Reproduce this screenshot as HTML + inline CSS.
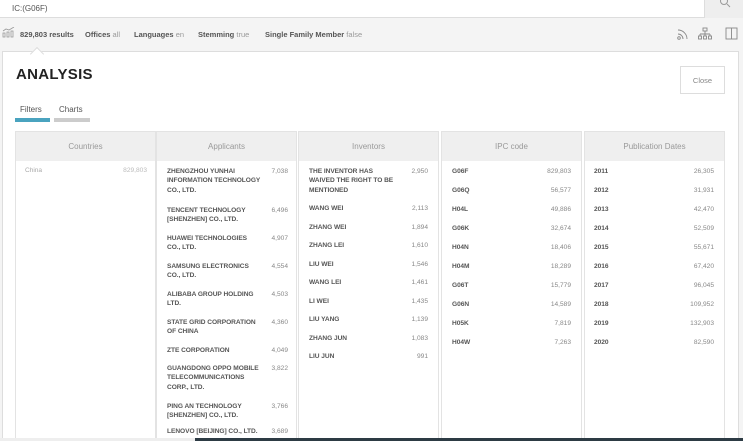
<!DOCTYPE html>
<html><head><meta charset="utf-8"><style>
*{margin:0;padding:0;box-sizing:border-box}
body{width:743px;height:441px;overflow:hidden;background:#f4f4f4;font-family:"Liberation Sans",sans-serif;position:relative;color:#333}
.a{position:absolute}
.top{left:0;top:0;width:743px;height:18px;background:#fff;border-bottom:1px solid #ddd}
.sbtn{left:704px;top:0;width:39px;height:18px;background:#eeeeee;border-left:1px solid #ddd}
.bar{font-size:7.5px;top:30px;color:#555}
.bar b{font-weight:bold;color:#555}
.bar i{font-style:normal;color:#999}
.panel{left:2px;top:51px;width:737px;height:390px;background:#fff;border:1px solid #ddd}
.col{top:131px;width:141px;height:310px;border:1px solid #e3e3e3;background:#fff}
.hd{position:absolute;left:0;top:0;width:100%;height:29px;background:#efefef;font-size:8px;color:#999;text-align:center;line-height:29px}
.it{position:absolute;font-size:6.6px;line-height:9.4px;color:#555;font-weight:bold;letter-spacing:-0.05px}
.n{position:absolute;font-size:6.6px;line-height:9.4px;color:#888;text-align:right}
</style></head><body>
<div class="a top"></div>
<div class="a" style="left:12px;top:4px;font-size:8px;color:#555">IC:(G06F)</div>
<div class="a sbtn"></div>
<svg class="a" style="left:719px;top:0" width="12" height="8"><circle cx="5" cy="1" r="3.5" fill="none" stroke="#999" stroke-width="1"/><line x1="8" y1="4" x2="11" y2="7" stroke="#999"/></svg>
<svg class="a" style="left:2px;top:27px" width="14" height="11"><g fill="none" stroke="#999" stroke-width="0.8"><rect x="1" y="6" width="2" height="4"/><rect x="5" y="5" width="2" height="5"/><rect x="9" y="4" width="2" height="6"/><polyline points="1,4 4,2 7,3 12,0"/></g></svg>
<div class="a bar" style="left:20px"><b>829,803 results</b></div>
<div class="a bar" style="left:85px"><b>Offices</b> <i>all</i></div>
<div class="a bar" style="left:134px"><b>Languages</b> <i>en</i></div>
<div class="a bar" style="left:198px"><b>Stemming</b> <i>true</i></div>
<div class="a bar" style="left:265px"><b>Single Family Member</b> <i>false</i></div>
<svg class="a" style="left:676px;top:27px" width="67" height="14"><g fill="none" stroke="#888" stroke-width="0.9"><circle cx="3" cy="11" r="1.3"/><path d="M2 7a5 5 0 0 1 5 5M2 3a9 9 0 0 1 9 9"/><rect x="27" y="1" width="4" height="3"/><path d="M29 4v3M24 7h10M24 7v2M29 7v2M34 7v2"/><rect x="22.5" y="9" width="3" height="3"/><rect x="27.5" y="9" width="3" height="3"/><rect x="32.5" y="9" width="3" height="3"/><rect x="50" y="1" width="11" height="11"/><path d="M55.5 1v11"/></g></svg>
<div class="a panel"></div>
<div class="a" style="left:32px;top:49px;width:10px;height:10px;background:#fff;border-left:1px solid #ddd;border-top:1px solid #ddd;transform:rotate(45deg)"></div>
<div class="a" style="left:16px;top:66px;font-size:15px;font-weight:bold;color:#222;letter-spacing:0.3px">ANALYSIS</div>
<div class="a" style="left:680px;top:66px;width:45px;height:28px;border:1px solid #ddd;font-size:7.5px;color:#888;text-align:center;line-height:27px">Close</div>
<div class="a" style="left:20px;top:105px;font-size:8px;color:#555">Filters</div>
<div class="a" style="left:59px;top:105px;font-size:8px;color:#555">Charts</div>
<div class="a" style="left:15px;top:118px;width:35px;height:4px;background:#4aa3bf"></div>
<div class="a" style="left:54px;top:118px;width:36px;height:4px;background:#ccc"></div>

<div class="a col" style="left:15px"><div class="hd">Countries</div>
<div class="it" style="left:9px;top:34px;font-weight:normal;color:#aaa">China</div><div class="n" style="right:8px;top:34px;color:#bbb">829,803</div></div>

<div class="a col" style="left:156px"><div class="hd">Applicants</div>
<div class="it" style="left:10px;top:35px;width:100px">ZHENGZHOU YUNHAI INFORMATION TECHNOLOGY CO., LTD.</div><div class="n" style="right:8px;top:35px">7,038</div>
<div class="it" style="left:10px;top:74px;width:92px">TENCENT TECHNOLOGY [SHENZHEN] CO., LTD.</div><div class="n" style="right:8px;top:74px">6,496</div>
<div class="it" style="left:10px;top:102px;width:92px">HUAWEI TECHNOLOGIES CO., LTD.</div><div class="n" style="right:8px;top:102px">4,907</div>
<div class="it" style="left:10px;top:130px;width:92px">SAMSUNG ELECTRONICS CO., LTD.</div><div class="n" style="right:8px;top:130px">4,554</div>
<div class="it" style="left:10px;top:158px;width:94px">ALIBABA GROUP HOLDING LTD.</div><div class="n" style="right:8px;top:158px">4,503</div>
<div class="it" style="left:10px;top:186px;width:94px">STATE GRID CORPORATION OF CHINA</div><div class="n" style="right:8px;top:186px">4,360</div>
<div class="it" style="left:10px;top:214px">ZTE CORPORATION</div><div class="n" style="right:8px;top:214px">4,049</div>
<div class="it" style="left:10px;top:232px;width:96px">GUANGDONG OPPO MOBILE TELECOMMUNICATIONS CORP., LTD.</div><div class="n" style="right:8px;top:232px">3,822</div>
<div class="it" style="left:10px;top:270px;width:92px">PING AN TECHNOLOGY [SHENZHEN] CO., LTD.</div><div class="n" style="right:8px;top:270px">3,766</div>
<div class="it" style="left:10px;top:295px">LENOVO [BEIJING] CO., LTD.</div><div class="n" style="right:8px;top:295px">3,689</div>
</div>

<div class="a col" style="left:298px"><div class="hd">Inventors</div>
<div class="it" style="left:10px;top:35px;width:90px">THE INVENTOR HAS WAIVED THE RIGHT TO BE MENTIONED</div><div class="n" style="right:10px;top:35px">2,950</div>
<div class="it" style="left:10px;top:72px">WANG WEI</div><div class="n" style="right:10px;top:72px">2,113</div>
<div class="it" style="left:10px;top:90.5px">ZHANG WEI</div><div class="n" style="right:10px;top:90.5px">1,894</div>
<div class="it" style="left:10px;top:109px">ZHANG LEI</div><div class="n" style="right:10px;top:109px">1,610</div>
<div class="it" style="left:10px;top:127.5px">LIU WEI</div><div class="n" style="right:10px;top:127.5px">1,546</div>
<div class="it" style="left:10px;top:146px">WANG LEI</div><div class="n" style="right:10px;top:146px">1,461</div>
<div class="it" style="left:10px;top:164.5px">LI WEI</div><div class="n" style="right:10px;top:164.5px">1,435</div>
<div class="it" style="left:10px;top:183px">LIU YANG</div><div class="n" style="right:10px;top:183px">1,139</div>
<div class="it" style="left:10px;top:201.5px">ZHANG JUN</div><div class="n" style="right:10px;top:201.5px">1,083</div>
<div class="it" style="left:10px;top:220px">LIU JUN</div><div class="n" style="right:10px;top:220px">991</div>
</div>

<div class="a col" style="left:441px"><div class="hd">IPC code</div>
<div class="it" style="left:10px;top:35px">G06F</div><div class="n" style="right:10px;top:35px">829,803</div>
<div class="it" style="left:10px;top:54px">G06Q</div><div class="n" style="right:10px;top:54px">56,577</div>
<div class="it" style="left:10px;top:73px">H04L</div><div class="n" style="right:10px;top:73px">49,886</div>
<div class="it" style="left:10px;top:92px">G06K</div><div class="n" style="right:10px;top:92px">32,674</div>
<div class="it" style="left:10px;top:111px">H04N</div><div class="n" style="right:10px;top:111px">18,406</div>
<div class="it" style="left:10px;top:130px">H04M</div><div class="n" style="right:10px;top:130px">18,289</div>
<div class="it" style="left:10px;top:149px">G06T</div><div class="n" style="right:10px;top:149px">15,779</div>
<div class="it" style="left:10px;top:168px">G06N</div><div class="n" style="right:10px;top:168px">14,589</div>
<div class="it" style="left:10px;top:187px">H05K</div><div class="n" style="right:10px;top:187px">7,819</div>
<div class="it" style="left:10px;top:206px">H04W</div><div class="n" style="right:10px;top:206px">7,263</div>
</div>

<div class="a col" style="left:584px"><div class="hd">Publication Dates</div>
<div class="it" style="left:9px;top:35px">2011</div><div class="n" style="right:10px;top:35px">26,305</div>
<div class="it" style="left:9px;top:54px">2012</div><div class="n" style="right:10px;top:54px">31,931</div>
<div class="it" style="left:9px;top:73px">2013</div><div class="n" style="right:10px;top:73px">42,470</div>
<div class="it" style="left:9px;top:92px">2014</div><div class="n" style="right:10px;top:92px">52,509</div>
<div class="it" style="left:9px;top:111px">2015</div><div class="n" style="right:10px;top:111px">55,671</div>
<div class="it" style="left:9px;top:130px">2016</div><div class="n" style="right:10px;top:130px">67,420</div>
<div class="it" style="left:9px;top:149px">2017</div><div class="n" style="right:10px;top:149px">96,045</div>
<div class="it" style="left:9px;top:168px">2018</div><div class="n" style="right:10px;top:168px">109,952</div>
<div class="it" style="left:9px;top:187px">2019</div><div class="n" style="right:10px;top:187px">132,903</div>
<div class="it" style="left:9px;top:206px">2020</div><div class="n" style="right:10px;top:206px">82,590</div>
</div>
<div class="a" style="left:0;top:438px;width:743px;height:3px;background:#eee"></div>
<div class="a" style="left:195px;top:438px;width:548px;height:3px;background:#2d3b44"></div>
</body></html>
